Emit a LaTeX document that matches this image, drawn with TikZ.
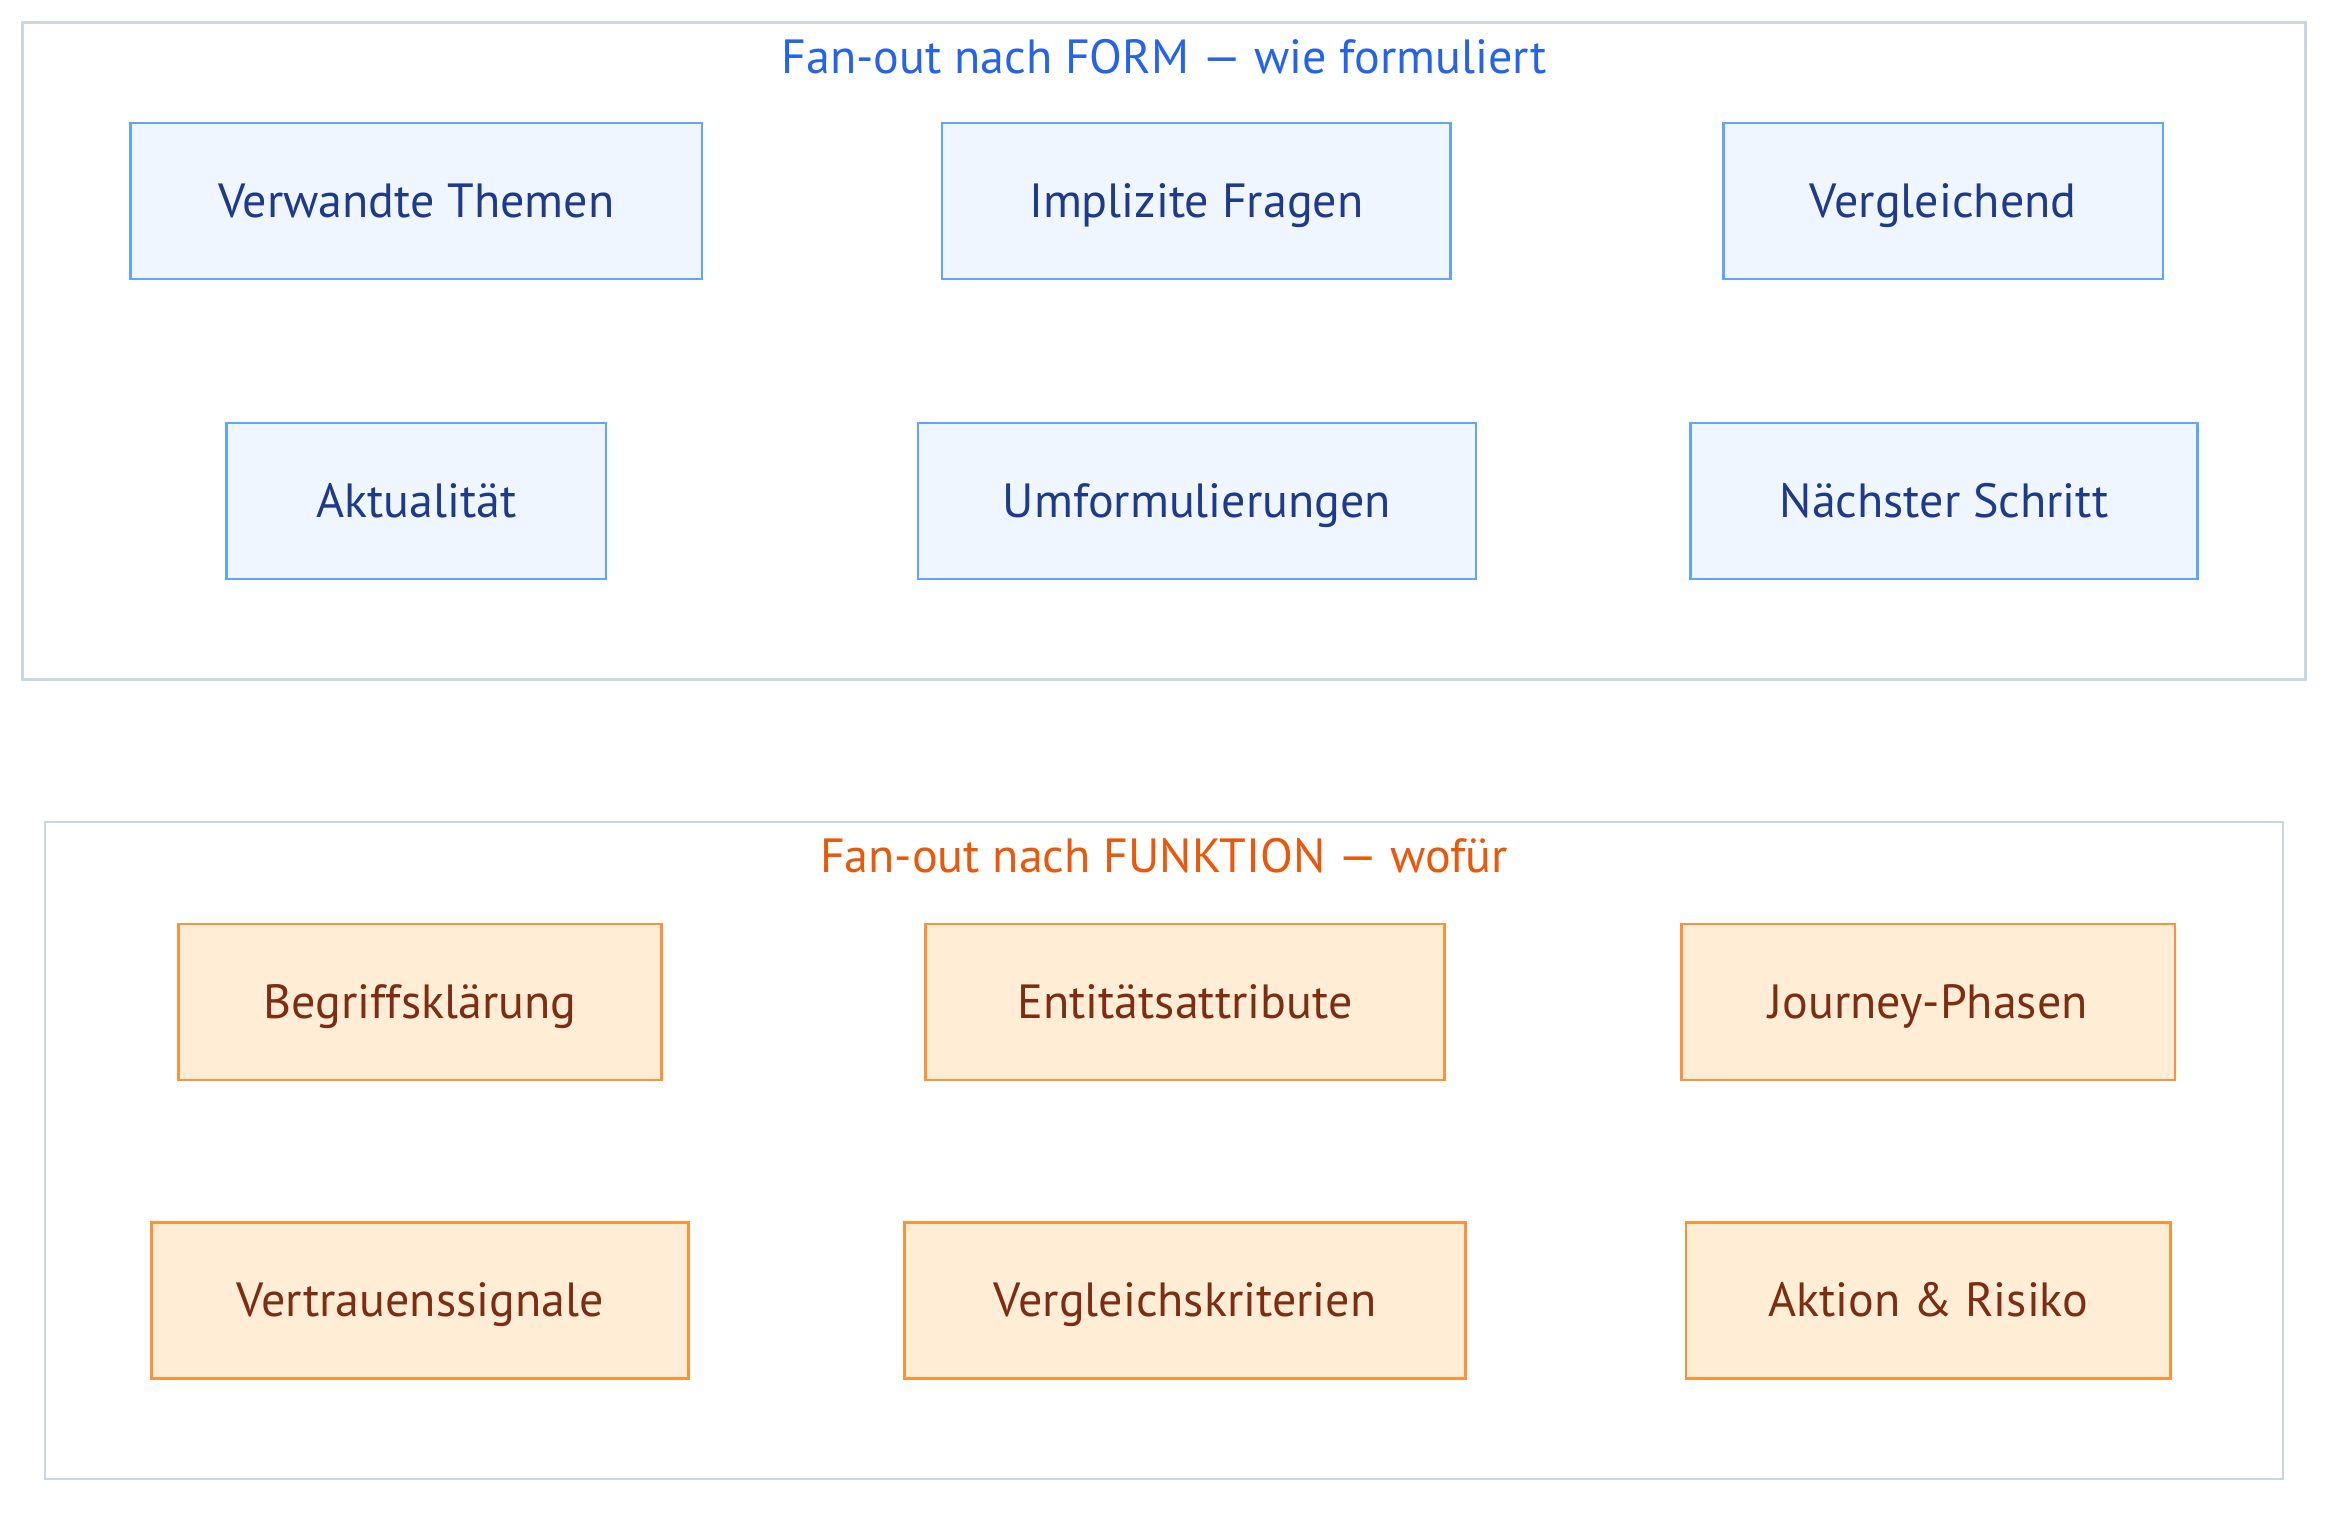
\documentclass[tikz,border=0pt]{standalone}
\usepackage{fontspec}
\setmainfont{PT Sans}
\definecolor{cborder}{HTML}{CBD5E1}
\definecolor{bstroke}{HTML}{60A5FA}
\definecolor{bfill}{HTML}{EFF6FF}
\definecolor{btext}{HTML}{1E3A8A}
\definecolor{btitle}{HTML}{2563EB}
\definecolor{ostroke}{HTML}{FB923C}
\definecolor{ofill}{HTML}{FFEDD5}
\definecolor{otext}{HTML}{7C2D12}
\definecolor{otitle}{HTML}{EA580C}
\begin{document}
\begin{tikzpicture}[x=0.5pt,y=-0.5pt,
  container/.style={draw=cborder,line width=1.3pt,fill=white},
  boxbase/.style={line width=1.3pt,minimum height=78pt,inner sep=0pt,text height=21pt,text depth=5pt,font=\fontsize{24}{28}\selectfont},
  fbox/.style={boxbase,draw=bstroke,fill=bfill,text=btext},
  obox/.style={boxbase,draw=ostroke,fill=ofill,text=otext},
  ttl/.style={font=\fontsize{24}{28}\selectfont,inner sep=0pt,text height=21pt,text depth=5pt}]
\useasboundingbox (0,0) rectangle (2352,1521);
\fill[white] (0,0) rectangle (2352,1521);
% containers
\draw[container] (22.5,22.5) rectangle (2305.5,679.5);
\draw[container] (45,822) rectangle (2283,1479);
\node[ttl,text=btitle] (t1) at (1164,57) {Fan-out nach FORM — wie formuliert};
\node[ttl,text=otitle] (t2) at (1164,856.5) {Fan-out nach FUNKTION — wofür};
% FORM boxes
\node[fbox,minimum width=285.75pt] (a1) at (416.25,201) {Verwandte Themen};
\node[fbox,minimum width=254.25pt] (a2) at (1196.25,201) {Implizite Fragen};
\node[fbox,minimum width=219.75pt] (a3) at (1943.25,201) {Vergleichend};
\node[fbox,minimum width=189.75pt] (a4) at (416.25,501) {Aktualität};
\node[fbox,minimum width=279pt] (a5) at (1197,501) {Umformulierungen};
\node[fbox,minimum width=253.5pt] (a6) at (1944,501) {Nächster Schritt};
% FUNKTION boxes
\node[obox,minimum width=241.5pt] (b1) at (420,1002) {Begriffsklärung};
\node[obox,minimum width=259.5pt] (b2) at (1185,1002) {Entitätsattribute};
\node[obox,minimum width=246.75pt] (b3) at (1928.25,1002) {Journey-Phasen};
\node[obox,minimum width=268.5pt] (b4) at (420,1300.5) {Vertrauenssignale};
\node[obox,minimum width=280.5pt] (b5) at (1185,1300.5) {Vergleichskriterien};
\node[obox,minimum width=242.25pt] (b6) at (1928.25,1300.5) {Aktion \& Risiko};
\end{tikzpicture}
\end{document}
